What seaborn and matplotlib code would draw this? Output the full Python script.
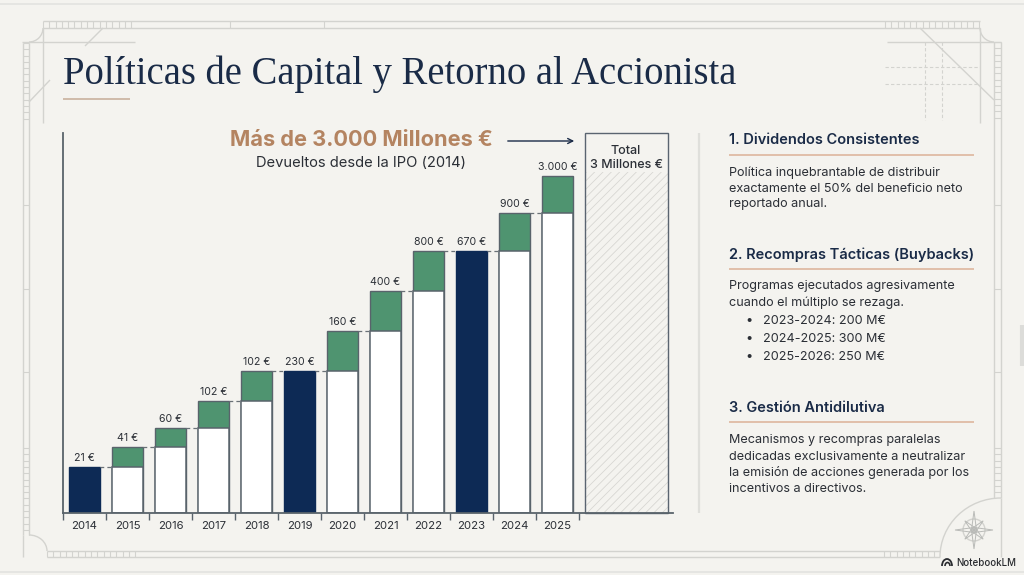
import numpy as np
import pandas as pd
import matplotlib
matplotlib.use("Agg")
import matplotlib.pyplot as plt
from matplotlib.patches import Arc, Polygon
import seaborn as sns

# ---- data (bar heights on the chart's own drawn scale; labels as printed) ----
years = ["2014", "2015", "2016", "2017", "2018", "2019", "2020", "2021", "2022", "2023", "2024", "2025"]
bar_tops = [45, 65, 84, 111, 141, 141, 181, 221, 261, 261, 299, 336]
bar_bases = [0, 45, 65, 84, 111, 0, 141, 181, 221, 0, 261, 299]
bar_labels = ["21 €", "41 €", "60 €", "102 €", "102 €", "230 €", "160 €", "400 €", "800 €", "670 €", "900 €", "3.000 €"]
bar_kinds = ["full", "step", "step", "step", "step", "full", "step", "step", "step", "full", "step", "step"]
total_height = 379
hatch_height = 340

NAVY = "#0d2a55"
GREEN = "#4f9470"
EDGE = "#59636b"
BG = "#f4f3ef"
INK = "#1a2b47"
TXT = "#2b2f36"
RULE = "#dcb197"
BP = "#d3d3cf"

sns.set_theme(style="white")
plt.rcParams["font.family"] = ["Inter", "DejaVu Sans"]
plt.rcParams["hatch.linewidth"] = .6

W, H = 1024, 575
fig = plt.figure(figsize=(W / 100, H / 100), dpi=100, facecolor=BG)

# overlay in pixel coordinates
bg = fig.add_axes([0, 0, 1, 1], zorder=0)
bg.set_xlim(0, W); bg.set_ylim(H, 0); bg.axis("off")


def line(x0, y0, x1, y1, c=BP, lw=1.0, ls="-"):
    bg.plot([x0, x1], [y0, y1], color=c, lw=lw, ls=ls, solid_capstyle="butt")


def vband(y0, y1, x0, x1, spans):
    line(x0, y0, x0, y1); line(x1, y0, x1, y1)
    for a, b, s in spans:
        for y in np.arange(a, b + .1, s):
            line(x0, y, x1, y, lw=.8)


def hband(x0, x1, y0, y1, spans):
    line(x0, y0, x1, y0); line(x0, y1, x1, y1)
    for a, b, s in spans:
        for x in np.arange(a, b + .1, s):
            line(x, y0, x, y1, lw=.8)


# page edges
line(0, 4, W, 4, c="#e3e3e0", lw=1.2)
line(0, 572, W, 572, c="#e3e3e0", lw=1.2)
line(1022, 325, 1022, 366, c="#dcdcd9", lw=3)

# blueprint frame
hband(43, 980, 21, 28, [(43, 137, 6.3), (230, 324, 94), (885, 980, 6.3)])
hband(47, 940, 551, 557, [(47, 140, 6.3), (884, 940, 6.3)])
vband(43, 535, 23, 29, [(43, 122, 6.3), (205, 372, 83.5), (448, 535, 6.3)])
line(23, 535, 23, 557)
vband(42, 498, 994, 1001, [(42, 122, 6.3), (205, 372, 83.5), (448, 498, 6.3)])
line(1001, 498, 1001, 557)
line(43, 28, 43, 123)
line(980, 28, 980, 123)
line(22, 42, 135, 42)
line(887, 42, 1001, 42)
line(103, 28, 85, 46)
line(50, 80, 29, 102)
line(920, 28, 994, 100)
for y in (67, 84):
    line(885, y, 980, y, ls=(0, (3, 2)), lw=.8)
for x in (925, 942):
    line(x, 42, x, 120, ls=(0, (3, 2)), lw=.8)
bg.add_patch(Arc((29, 28), 28, 28, theta1=0, theta2=90, color=BP, lw=1))
bg.add_patch(Arc((994, 28), 28, 28, theta1=90, theta2=180, color=BP, lw=1))
bg.add_patch(Arc((29, 551), 36, 32, theta1=270, theta2=360, color=BP, lw=1))
bg.add_patch(Arc((1001, 557), 122, 118, theta1=180, theta2=270, color=BP, lw=1))
# compass
cx, cy = 974, 530
bg.add_patch(plt.Circle((cx, cy), 11, fill=False, ec=BP, lw=1))
for ang, r in [(0, 19), (90, 19), (180, 19), (270, 19), (45, 13), (135, 13), (225, 13), (315, 13)]:
    t = np.deg2rad(ang)
    n = np.array([np.cos(t), np.sin(t)]); p = np.array([-n[1], n[0]]) * 2.5
    c = np.array([cx, cy])
    bg.add_patch(Polygon([c + p, c + n * r, c - p], closed=True, fc="none", ec="#b9bab7", lw=.7))

# title
bg.text(63, 84, "Políticas de Capital y Retorno al Accionista", family="Liberation Serif",
        fontsize=27.8, color=INK, va="baseline", ha="left")
line(63, 99, 130, 99, c="#c9b29e", lw=1.2)

# chart
ax = fig.add_axes([63 / W, 1 - 512.5 / H, (673 - 63) / W, (512.5 - 133) / H], zorder=2)
ax.patch.set_alpha(0)
df = pd.DataFrame({"year": years, "top": bar_tops, "base": bar_bases, "kind": bar_kinds})
step_or_full = {"full": NAVY, "step": GREEN}
sns.barplot(data=df, x="year", y="top", hue="kind", palette=step_or_full, dodge=False, width=0.7,
            legend=False, ax=ax, linewidth=1.0, saturation=1, order=years)
for patch in ax.patches:
    patch.set_edgecolor(EDGE if patch.get_facecolor()[1] > .4 else NAVY)
sns.barplot(data=df[df["kind"] == "step"], x="year", y="base", color="white", width=0.7,
            ax=ax, linewidth=1.1, edgecolor=EDGE, saturation=1, order=years)
ax.set_xlim(-0.5, (673 - 84.5) / 43)
ax.set_ylim(0, total_height)
ax.set_xlabel(""); ax.set_ylabel("")
ax.set_yticks([])

# hatched total column
tot_x, tot_w = (626 - 84.5) / 43, 83 / 43
ax.bar(tot_x, hatch_height, width=tot_w, color="none", edgecolor="#d8d7d3", hatch="////", lw=0)
ax.bar(tot_x, total_height, width=tot_w, color="none", edgecolor="#5a6470", lw=1.0, clip_on=False)

# connectors
for i in range(len(years) - 1):
    y = bar_tops[i]
    ax.plot([i + .35, i + .65], [y, y], color="#6a7177", lw=.9, ls=(0, (3, 2.5)))

# value labels
for i, lab in enumerate(bar_labels):
    ax.annotate(lab, (i, bar_tops[i]), xytext=(0, 4), textcoords="offset pixels", ha="center", va="bottom",
                fontsize=7.6, color=TXT)

for s in ("top", "right"):
    ax.spines[s].set_visible(False)
for s in ("left", "bottom"):
    ax.spines[s].set_color(EDGE)
    ax.spines[s].set_linewidth(1.3)
ax.set_xticks(range(len(years)), years)
ax.tick_params(axis="x", which="major", length=0, pad=6, labelsize=8.2, labelcolor=TXT)
ax.set_xticks(np.arange(-.5, 12), minor=True)
ax.tick_params(axis="x", which="minor", length=5, width=1, color=EDGE, bottom=True)

# callout
bg.text(361.5, 140, "Más de 3.000 Millones €", fontsize=15.7, fontweight="bold", color="#b48461", ha="center", va="center")
bg.text(361, 163, "Devueltos desde la IPO (2014)", fontsize=10.6, color=TXT, ha="center", va="center")
bg.annotate("", xy=(577, 141), xytext=(505, 141), arrowprops=dict(arrowstyle="->", color=INK, lw=1, mutation_scale=9))
bg.text(626, 150.5, "Total", fontsize=9, color=TXT, ha="center", va="center", fontweight="medium", zorder=5)
bg.text(626, 165.5, "3 Millones €", fontsize=9, color=TXT, ha="center", va="center", fontweight="medium", zorder=5)

# right column
line(699, 133, 699, 513, c="#dfdfdb", lw=1.6)
heads = [(139.5, 155, "1. Dividendos Consistentes"), (254.5, 269, "2. Recompras Tácticas (Buybacks)"),
         (407.5, 422, "3. Gestión Antidilutiva")]
for y, ry, t in heads:
    bg.text(729, y, t, fontsize=10.5, fontweight="semibold", color=INK, va="center")
    line(729, ry, 974, ry, c=RULE, lw=1.1)
body = [(172.5, "Política inquebrantable de distribuir"), (188.5, "exactamente el 50% del beneficio neto"),
        (204.5, "reportado anual."), (286.5, "Programas ejecutados agresivamente"), (302.5, "cuando el múltiplo se rezaga."),
        (440.5, "Mecanismos y recompras paralelas"), (456.5, "dedicadas exclusivamente a neutralizar"),
        (472.5, "la emisión de acciones generada por los"), (488.5, "incentivos a directivos.")]
for y, t in body:
    bg.text(729, y, t, fontsize=9.1, color=TXT, va="center")
for y, t in [(320.5, "2023-2024: 200 M€"), (338.5, "2024-2025: 300 M€"), (356.5, "2025-2026: 250 M€")]:
    bg.text(749, y, "•", fontsize=9.1, color=TXT, va="center", ha="center")
    bg.text(763, y, t, fontsize=9.1, color=TXT, va="center")

bg.text(956, 562.5, "NotebookLM", fontsize=7.0, color="#2a2c30", va="center", fontweight="medium")
bg.add_patch(Arc((947, 566), 10, 14, theta1=180, theta2=360, color="#2a2c30", lw=1.3))
bg.add_patch(Arc((947.5, 566), 5, 7, theta1=180, theta2=360, color="#2a2c30", lw=1.2))

fig.savefig("out.png", dpi=100, facecolor=BG)
